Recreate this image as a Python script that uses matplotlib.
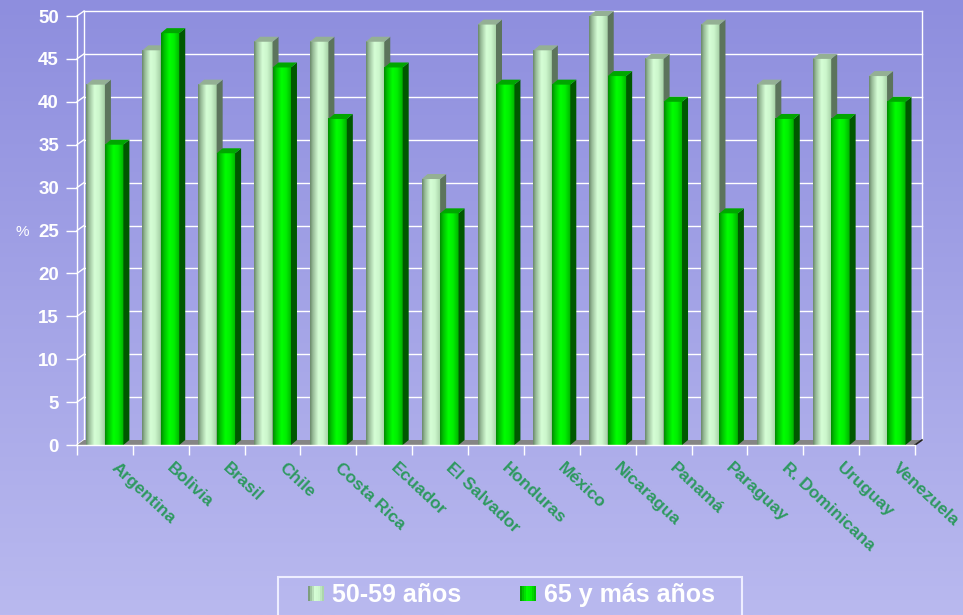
import numpy as np
import matplotlib
matplotlib.use('Agg')
import matplotlib.pyplot as plt
from matplotlib.colors import LinearSegmentedColormap
from matplotlib.patches import Polygon, Rectangle
from matplotlib.legend_handler import HandlerBase

countries = ["Argentina", "Bolivia", "Brasil", "Chile", "Costa Rica", "Ecuador",
             "El Salvador", "Honduras", "México", "Nicaragua", "Panamá", "Paraguay",
             "R. Dominicana", "Uruguay", "Venezuela"]
age_50_59 = [42, 46, 42, 47, 47, 47, 31, 49, 46, 50, 45, 49, 42, 45, 43]
age_65_plus = [35, 48, 34, 44, 38, 44, 27, 42, 42, 43, 40, 27, 38, 38, 40]
series_names = ["50-59 años", "65 y más años"]
y_ticks = list(range(0, 51, 5))

plt.rcParams['font.family'] = ['Liberation Sans', 'DejaVu Sans']

W, H, DPI = 963, 615, 100
fig = plt.figure(figsize=(W / DPI, H / DPI), dpi=DPI)

# background gradient
bg = fig.add_axes([0, 0, 1, 1], zorder=-10)
bg_cmap = LinearSegmentedColormap.from_list('bg', ['#8e8ede', '#b9b9ef'])
bg.imshow(np.linspace(0, 1, 256).reshape(-1, 1), aspect='auto', cmap=bg_cmap,
          extent=[0, 1, 0, 1], origin='upper')
bg.set_axis_off()

ax = fig.add_axes([77 / W, 1 - 445 / H, (915 - 77) / W, (445 - 16) / H])
ax.set_facecolor('none')
ax.set_xlim(-0.5, len(countries) - 0.5)
ax.set_ylim(0, 50)
ax.autoscale(False)

WDX, WDY = 7, 5   # wall depth (pixels)
BDX, BDY = 6, 5   # bar depth (pixels)


def off(xy, dx, dy):
    d = ax.transData.transform(np.atleast_2d(xy)) + np.array([dx, dy])
    return ax.transData.inverted().transform(d)


xl, xr = ax.get_xlim()
# floor
floor = np.vstack([[[xl, 0], [xr, 0]], off([xr, 0], WDX, WDY), off([xl, 0], WDX, WDY)])
ax.add_patch(Polygon(floor, closed=True, facecolor='#858585', edgecolor='none',
                     zorder=1, clip_on=False))
# back wall grid and left wall lines
for yv in y_ticks:
    a = off([xl, yv], WDX, WDY)[0]
    b = off([xr, yv], WDX, WDY)[0]
    if yv > 0:
        ax.plot([a[0], b[0]], [a[1], b[1]], color='white', lw=1, zorder=0.5, clip_on=False)
    ax.plot([xl, a[0]], [yv, a[1]], color='white', lw=1, zorder=0.5, clip_on=False)
for xv in (xl, xr):
    a = off([xv, 0], WDX, WDY)[0]
    b = off([xv, 50], WDX, WDY)[0]
    ax.plot([a[0], b[0]], [a[1], b[1]], color='white', lw=1, zorder=0.5, clip_on=False)
# right floor edge
a = off([xr, 0], WDX, WDY)[0]
ax.plot([xr, a[0]], [0, a[1]], color='#222222', lw=1.2, zorder=1.2, clip_on=False)

cmap_light = LinearSegmentedColormap.from_list(
    'light', [(0, '#6a886a'), (0.15, '#98bc98'), (0.45, '#d6fed6'), (0.7, '#ccf6cc'), (1, '#a4cea4')])
cmap_green = LinearSegmentedColormap.from_list(
    'green', [(0, '#008c00'), (0.15, '#00bc00'), (0.45, '#00ff00'), (0.7, '#00ee00'), (1, '#00b000')])
side_cols = ['#5c745c', '#005800']
top_cols = ['#94b094', '#00a600']
cmaps = [cmap_light, cmap_green]
bw = 0.33
grad_row = np.linspace(0, 1, 64).reshape(1, -1)

z = 2
for i in range(len(countries)):
    for s, vals in enumerate([age_50_59, age_65_plus]):
        x0 = i - bw + s * bw
        rect = ax.bar(x0, vals[i], width=bw, align='edge', color=cmaps[s](0.5),
                      linewidth=0, zorder=z, clip_on=False)[0]
        bx0, bx1 = rect.get_x(), rect.get_x() + rect.get_width()
        h = rect.get_height()
        ax.imshow(grad_row, extent=[bx0, bx1, 0, h], cmap=cmaps[s], aspect='auto',
                  zorder=z + 0.1, interpolation='bilinear')
        side = np.vstack([[[bx1, 0], [bx1, h]], off([bx1, h], BDX, BDY), off([bx1, 0], BDX, BDY)])
        ax.add_patch(Polygon(side, closed=True, facecolor=side_cols[s], edgecolor='none',
                             zorder=z + 0.2, clip_on=False))
        top = np.vstack([[[bx0, h], [bx1, h]], off([bx1, h], BDX, BDY), off([bx0, h], BDX, BDY)])
        ax.add_patch(Polygon(top, closed=True, facecolor=top_cols[s], edgecolor='none',
                             zorder=z + 0.3, clip_on=False))
        z += 1

ax.set_xlim(xl, xr)
ax.set_ylim(0, 50)

for sp in ['top', 'right']:
    ax.spines[sp].set_visible(False)
for sp in ['left', 'bottom']:
    ax.spines[sp].set_color('white')
    ax.spines[sp].set_linewidth(1)
    ax.spines[sp].set_zorder(200)

ax.set_yticks(y_ticks)
ax.set_yticklabels([str(v) for v in y_ticks], color='white', fontweight='bold', fontsize=13.5)
ax.tick_params(axis='y', direction='out', length=8, width=1, color='white', pad=5)
ax.set_xticks(np.arange(-0.5, len(countries), 1.0))
ax.set_xticklabels([])
ax.tick_params(axis='x', direction='out', length=7, width=1, color='white')

for i, name in enumerate(countries):
    ax.text(i + 0.24, -0.035, name, transform=ax.get_xaxis_transform(), rotation=-43,
            rotation_mode='anchor', ha='left', va='top', color='#2e9960',
            fontweight='bold', fontsize=12.5)

fig.text(22 / W, 1 - 232 / H, '%', color='white', fontsize=11, ha='center', va='center')


class GradHandler(HandlerBase):
    def __init__(self, cmap, **kw):
        super().__init__(**kw)
        self.cmap = cmap

    def create_artists(self, legend, orig_handle, xdescent, ydescent, width, height,
                       fontsize, trans):
        n = 8
        w = 16 * 72 / DPI
        hh = 15 * 72 / DPI
        x0 = width - w - xdescent
        y0 = -ydescent + (height - hh) / 2
        arts = []
        for k in range(n):
            arts.append(Rectangle((x0 + k * w / n, y0), w / n, hh,
                                  facecolor=self.cmap((k + 0.5) / n), edgecolor='none',
                                  transform=trans))
        return arts


h1 = Rectangle((0, 0), 1, 1)
h2 = Rectangle((0, 0), 1, 1)
leg = fig.legend([h1, h2], series_names, loc='upper left',
                 bbox_to_anchor=(278 / W, 1 - 577 / H), ncol=2, frameon=False,
                 prop={'size': 18, 'weight': 'bold'}, labelcolor='white',
                 handlelength=1.6, handletextpad=0.3, columnspacing=1.4,
                 borderpad=0.25, borderaxespad=0,
                 handler_map={h1: GradHandler(cmap_light), h2: GradHandler(cmap_green)})
# legend frame box
fig.patches.append(Rectangle((278 / W, 1 - 620 / H), (742 - 278) / W, (620 - 577) / H,
                             transform=fig.transFigure, facecolor='none',
                             edgecolor='#eeeeff', linewidth=1.5, zorder=5))

fig.savefig('out.png', dpi=DPI)
